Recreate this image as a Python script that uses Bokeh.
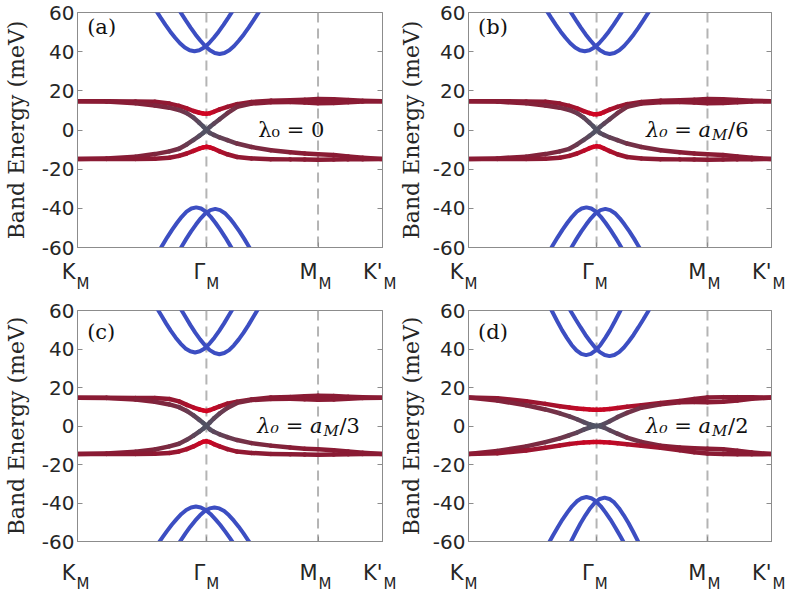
from bokeh.plotting import figure
from bokeh.models import Range1d, FixedTicker, LinearAxis, Span, Label, ColumnDataSource
from bokeh.layouts import column, row
from bokeh.transform import linear_cmap
from bokeh.embed import file_html
from bokeh.resources import INLINE

# ---- path through the moire Brillouin zone ----
TICK_K = [0.0, 1.3333, 2.4880, 3.1547]
TICK_NAMES = ["K", "Γ", "M", "K'"]
TICK_SUB = "M"
DASHED_K = [1.3333, 2.4880]
Y_TICKS = [-60, -40, -20, 0, 20, 40, 60]

# ---- flat bands (meV) sampled on K_FLAT ----
K_FLAT = [0.0, 0.3, 0.6, 0.8, 0.95, 1.05, 1.13, 1.2, 1.26, 1.3, 1.3333, 1.37, 1.41,
          1.47, 1.55, 1.65, 1.8, 2.0, 2.2, 2.35, 2.488, 2.65, 2.8, 2.95, 3.1547]

A_UB = [14.7, 14.7, 14.6, 14.4, 13.5, 12.3, 11.0, 9.7, 8.8, 8.4, 8.3, 8.6, 9.3, 10.5, 11.8, 13.2, 14.3, 15.0, 15.2, 15.5, 15.8, 15.7, 15.3, 14.9, 14.7]
A_UC = [14.7, 14.5, 13.6, 12.5, 11.4, 10.2, 8.6, 6.3, 3.7, 1.8, 0.0, 1.6, 3.2, 5.5, 8.6, 11.8, 13.5, 14.2, 14.3, 14.0, 13.7, 13.8, 14.2, 14.5, 14.7]
A_LC = [-14.8, -14.5, -13.6, -12.3, -10.9, -9.6, -7.4, -5.1, -3.0, -1.5, 0.0, -1.5, -2.5, -3.8, -5.2, -6.9, -8.7, -10.3, -11.4, -12.0, -12.4, -12.8, -13.5, -14.2, -14.8]
A_LB = [-14.8, -14.8, -14.8, -14.7, -14.2, -13.2, -12.0, -10.7, -9.5, -8.9, -8.6, -8.9, -9.6, -10.9, -12.4, -13.8, -14.5, -14.9, -15.0, -15.1, -15.2, -15.1, -15.0, -14.9, -14.8]

B_UB = [14.7, 14.7, 14.6, 14.4, 13.5, 12.3, 11.0, 9.6, 8.6, 8.1, 8.0, 8.3, 9.1, 10.4, 11.8, 13.2, 14.3, 15.0, 15.2, 15.5, 15.8, 15.7, 15.3, 14.9, 14.7]
B_UC = [14.7, 14.5, 13.6, 12.5, 11.4, 10.2, 8.6, 6.3, 3.7, 1.8, 0.0, 1.6, 3.2, 5.5, 8.6, 11.8, 13.5, 14.2, 14.3, 14.0, 13.7, 13.8, 14.2, 14.5, 14.7]
B_LC = [-14.8, -14.5, -13.6, -12.3, -10.9, -9.6, -7.4, -5.1, -3.0, -1.5, 0.0, -1.5, -2.5, -3.8, -5.2, -6.9, -8.7, -10.3, -11.4, -12.0, -12.4, -12.8, -13.5, -14.2, -14.8]
B_LB = [-14.8, -14.8, -14.8, -14.7, -14.2, -13.2, -12.0, -10.6, -9.3, -8.6, -8.3, -8.6, -9.4, -10.8, -12.4, -13.8, -14.5, -14.9, -15.0, -15.1, -15.2, -15.1, -15.0, -14.9, -14.8]

C_UB = [14.7, 14.7, 14.6, 14.5, 14.0, 12.8, 11.0, 9.6, 8.6, 8.1, 7.8, 8.3, 9.0, 10.2, 11.6, 12.6, 13.8, 14.8, 15.1, 15.4, 15.7, 15.6, 15.2, 14.9, 14.7]
C_UC = [14.7, 14.5, 13.7, 12.6, 11.2, 9.8, 7.8, 5.5, 3.2, 1.6, 0.0, 1.9, 3.9, 6.5, 9.4, 12.0, 13.5, 14.0, 14.1, 13.9, 13.6, 13.8, 14.2, 14.5, 14.7]
C_LC = [-14.5, -14.3, -13.4, -12.2, -10.6, -9.2, -7.2, -5.0, -2.9, -1.4, 0.0, -1.8, -3.0, -4.3, -5.8, -7.3, -8.9, -10.2, -11.2, -11.8, -12.1, -12.6, -13.3, -13.9, -14.5]
C_LB = [-14.5, -14.5, -14.5, -14.4, -14.0, -13.2, -12.0, -10.6, -9.1, -8.2, -7.9, -8.4, -9.4, -10.6, -12.0, -13.3, -14.0, -14.5, -14.7, -14.8, -14.9, -14.8, -14.7, -14.6, -14.5]

D_UB = [14.8, 14.4, 12.9, 11.5, 10.3, 9.6, 9.1, 8.8, 8.6, 8.5, 8.5, 8.5, 8.6, 8.8, 9.3, 10.0, 10.8, 11.9, 13.0, 14.0, 14.8, 15.0, 15.0, 14.9, 14.8]
D_UC = [14.8, 13.2, 10.8, 8.6, 6.6, 5.0, 3.5, 2.0, 0.9, 0.3, 0.0, 0.3, 1.0, 2.5, 4.6, 6.8, 9.5, 11.3, 12.3, 12.5, 12.4, 12.6, 13.3, 14.1, 14.8]
D_LC = [-14.6, -13.0, -10.6, -8.4, -6.4, -4.8, -3.4, -1.9, -0.8, -0.3, 0.0, -0.2, -0.8, -2.2, -4.0, -6.0, -8.3, -10.3, -11.2, -11.6, -11.8, -12.1, -12.8, -13.7, -14.6]
D_LB = [-14.6, -14.2, -12.7, -11.3, -10.1, -9.4, -8.9, -8.6, -8.4, -8.3, -8.3, -8.3, -8.4, -8.6, -9.0, -9.5, -10.3, -11.3, -12.6, -13.6, -14.3, -14.6, -14.7, -14.7, -14.6]

# colour weight of the flat bands (0 = mixed/grey, 0.5 = maroon, 1 = polarised red)
W_UB = [0.5, 0.5, 0.5, 0.52, 0.55, 0.6, 0.68, 0.78, 0.9, 0.97, 1.0, 0.97, 0.9, 0.78, 0.65, 0.57, 0.52, 0.5, 0.5, 0.5, 0.5, 0.5, 0.5, 0.5, 0.5]
W_UC = [0.5, 0.5, 0.47, 0.43, 0.38, 0.32, 0.25, 0.17, 0.09, 0.04, 0.0, 0.04, 0.09, 0.17, 0.26, 0.35, 0.44, 0.5, 0.5, 0.5, 0.5, 0.5, 0.5, 0.5, 0.5]
W_LC = [0.5, 0.49, 0.46, 0.42, 0.37, 0.31, 0.24, 0.16, 0.09, 0.04, 0.0, 0.04, 0.08, 0.14, 0.2, 0.27, 0.35, 0.42, 0.47, 0.5, 0.5, 0.5, 0.5, 0.5, 0.5]
W_LB = [0.5, 0.5, 0.5, 0.52, 0.55, 0.6, 0.68, 0.78, 0.9, 0.97, 1.0, 0.97, 0.9, 0.78, 0.65, 0.57, 0.52, 0.5, 0.5, 0.5, 0.5, 0.5, 0.5, 0.5, 0.5]
WD_UB = [0.5, 0.53, 0.58, 0.65, 0.72, 0.78, 0.84, 0.89, 0.93, 0.95, 0.96, 0.95, 0.93, 0.89, 0.84, 0.77, 0.67, 0.57, 0.52, 0.5, 0.5, 0.5, 0.5, 0.5, 0.5]
WD_UC = [0.5, 0.46, 0.4, 0.34, 0.28, 0.22, 0.16, 0.1, 0.05, 0.02, 0.0, 0.02, 0.05, 0.1, 0.16, 0.24, 0.34, 0.44, 0.5, 0.5, 0.5, 0.5, 0.5, 0.5, 0.5]

# ---- remote (blue) bands ----
A_U1_K = [0.76, 0.81, 0.86, 0.91, 0.96, 1.01, 1.06, 1.11, 1.16, 1.21, 1.26, 1.31, 1.36, 1.41, 1.46, 1.51, 1.56, 1.61, 1.66]
A_U1_E = [65.2, 61.2, 57.4, 53.7, 50.2, 47.1, 44.3, 42.1, 40.7, 40.2, 40.7, 42.1, 44.3, 47.1, 50.2, 53.7, 57.4, 61.2, 65.2]
A_U2_K = [1.02, 1.07, 1.12, 1.17, 1.22, 1.27, 1.32, 1.37, 1.42, 1.47, 1.52, 1.57, 1.62, 1.67, 1.72, 1.77, 1.82, 1.87, 1.92]
A_U2_E = [63.8, 59.8, 56.0, 52.3, 48.8, 45.7, 42.9, 40.7, 39.3, 38.8, 39.3, 40.7, 42.9, 45.7, 48.8, 52.3, 56.0, 59.8, 63.8]
A_L1_K = [0.778, 0.828, 0.878, 0.928, 0.978, 1.028, 1.078, 1.128, 1.178, 1.228, 1.278, 1.328, 1.378, 1.428, 1.478, 1.528, 1.578, 1.628, 1.678]
A_L1_E = [-67.5, -63.1, -58.9, -54.8, -51.0, -47.5, -44.3, -41.7, -40.1, -39.5, -40.1, -41.7, -44.3, -47.5, -51.0, -54.8, -58.9, -63.1, -67.5]
A_L2_K = [0.975, 1.025, 1.075, 1.125, 1.175, 1.225, 1.275, 1.325, 1.375, 1.425, 1.475, 1.525, 1.575, 1.625, 1.675, 1.725, 1.775, 1.825, 1.875]
A_L2_E = [-68.3, -63.9, -59.7, -55.6, -51.8, -48.3, -45.1, -42.5, -40.9, -40.3, -40.9, -42.5, -45.1, -48.3, -51.8, -55.6, -59.7, -63.9, -68.3]

C_U1_K = [0.766, 0.816, 0.866, 0.916, 0.966, 1.016, 1.066, 1.116, 1.166, 1.216, 1.266, 1.316, 1.366, 1.416, 1.466, 1.516, 1.566, 1.616, 1.666]
C_U1_E = [66.2, 61.7, 57.5, 53.3, 49.4, 45.9, 42.8, 40.3, 38.8, 38.2, 38.8, 40.3, 42.8, 45.9, 49.4, 53.3, 57.5, 61.7, 66.2]
C_U2_K = [1.018, 1.068, 1.118, 1.168, 1.218, 1.268, 1.318, 1.368, 1.418, 1.468, 1.518, 1.568, 1.618, 1.668, 1.718, 1.768, 1.818, 1.868, 1.918]
C_U2_E = [65.3, 60.8, 56.6, 52.4, 48.5, 45.0, 41.9, 39.4, 37.9, 37.3, 37.9, 39.4, 41.9, 45.0, 48.5, 52.4, 56.6, 60.8, 65.3]
C_L1_K = [0.775, 0.825, 0.875, 0.925, 0.975, 1.025, 1.075, 1.125, 1.175, 1.225, 1.275, 1.325, 1.375, 1.425, 1.475, 1.525, 1.575, 1.625, 1.675]
C_L1_E = [-65.6, -61.8, -58.1, -54.6, -51.3, -48.4, -45.7, -43.6, -42.3, -41.8, -42.3, -43.6, -45.7, -48.4, -51.3, -54.6, -58.1, -61.8, -65.6]
C_L2_K = [0.967, 1.017, 1.067, 1.117, 1.167, 1.217, 1.267, 1.317, 1.367, 1.417, 1.467, 1.517, 1.567, 1.617, 1.667, 1.717, 1.767, 1.817, 1.867]
C_L2_E = [-67.3, -63.3, -59.5, -55.8, -52.3, -49.2, -46.4, -44.2, -42.8, -42.3, -42.8, -44.2, -46.4, -49.2, -52.3, -55.8, -59.5, -63.3, -67.3]

D_U1_K = [0.774, 0.824, 0.874, 0.924, 0.974, 1.024, 1.074, 1.124, 1.174, 1.224, 1.274, 1.324, 1.374, 1.424, 1.474, 1.524, 1.574, 1.624, 1.674]
D_U1_E = [69.3, 64.1, 59.2, 54.4, 49.8, 45.8, 42.1, 39.3, 37.45, 36.8, 37.45, 39.3, 42.1, 45.8, 49.8, 54.4, 59.2, 64.1, 69.3]
D_U2_E = [63.8, 59.4, 55.2, 51.2, 47.3, 43.9, 40.8, 38.4, 36.85, 36.3, 36.85, 38.4, 40.8, 43.9, 47.3, 51.2, 55.2, 59.4, 63.8]
D_L1_E = [-66.2, -61.5, -57.0, -52.7, -48.6, -45.0, -41.7, -39.1, -37.5, -36.9, -37.5, -39.1, -41.7, -45.0, -48.6, -52.7, -57.0, -61.5, -66.2]
D_L2_E = [-70.5, -65.1, -60.1, -55.2, -50.5, -46.4, -42.7, -39.7, -37.9, -37.2, -37.9, -39.7, -42.7, -46.4, -50.5, -55.2, -60.1, -65.1, -70.5]

# ---- styling ----
TEXT = "#262626"
AXIS = "#8c8c8c"
BLUE = "#3c4ec2"
DASH = "#b4b4b4"
GRAY, MAROON, RED = (80, 84, 102), (138, 27, 52), (210, 4, 34)
K_END = 3.1547


def mix(a, b, t):
    return tuple(int(round(a[i] + (b[i] - a[i]) * t)) for i in range(3))


PALETTE = []
for i in range(101):
    t = i / 100
    c = mix(GRAY, MAROON, t / 0.5) if t <= 0.5 else mix(MAROON, RED, (t - 0.5) / 0.5)
    PALETTE.append("#%02x%02x%02x" % c)


def make_panel(cfg):
    w, h = cfg["size"]
    bl, br, bt, bb = cfg["border"]
    p = figure(width=w, height=h, x_range=Range1d(0, K_END), y_range=Range1d(-60, 60),
               output_backend="svg", toolbar_location=None, tools="",
               min_border_left=bl, min_border_right=br, min_border_top=bt, min_border_bottom=bb)
    p.xgrid.visible = False
    p.ygrid.visible = False
    p.outline_line_color = AXIS
    p.outline_line_width = 1

    xa = p.xaxis[0]
    xa.ticker = FixedTicker(ticks=TICK_K)
    xa.major_label_overrides = {k: "" for k in TICK_K}
    xa.major_label_text_color = None
    xa.major_label_standoff = 0
    xa.major_tick_in = 5
    xa.major_tick_out = 0
    xa.minor_tick_line_color = None
    xa.axis_line_color = AXIS
    xa.major_tick_line_color = AXIS

    ya = p.yaxis[0]
    ya.ticker = FixedTicker(ticks=Y_TICKS)
    ya.major_label_overrides = {v: str(v) for v in Y_TICKS}
    ya.major_label_text_font = "DejaVu Sans"
    ya.major_label_text_font_size = "20px"
    ya.major_label_text_color = TEXT
    ya.major_label_standoff = 3
    ya.major_tick_in = 5
    ya.major_tick_out = 0
    ya.minor_tick_line_color = None
    ya.axis_line_color = AXIS
    ya.major_tick_line_color = AXIS
    ya.axis_label = "Band Energy (meV)"
    ya.axis_label_text_font = "DejaVu Serif"
    ya.axis_label_text_font_size = "22px"
    ya.axis_label_text_font_style = "normal"
    ya.axis_label_text_color = TEXT
    ya.axis_label_standoff = cfg["label_gap"]

    ra = LinearAxis(ticker=FixedTicker(ticks=Y_TICKS), major_tick_in=5, major_tick_out=0,
                    minor_tick_line_color=None, axis_line_color=AXIS, major_tick_line_color=AXIS,
                    major_label_text_color=None, major_label_standoff=0,
                    major_label_overrides={v: "" for v in Y_TICKS})
    p.add_layout(ra, "right")

    for k in DASHED_K:
        p.add_layout(Span(location=k, dimension="height", line_color=DASH, line_width=2,
                          line_dash="10 6", level="underlay"))

    for kk, ee in cfg["blue"]:
        p.line(kk, ee, line_color=BLUE, line_width=4)

    for band, wt in zip(cfg["flat"], cfg["weights"]):
        src = ColumnDataSource(dict(
            x0=K_FLAT[:-1], x1=K_FLAT[1:], y0=band[:-1], y1=band[1:],
            w=[(wt[i] + wt[i + 1]) / 2 for i in range(len(wt) - 1)]))
        p.segment("x0", "y0", "x1", "y1", source=src, line_width=4.5, line_cap="round",
                  line_color=linear_cmap("w", PALETTE, 0, 1))

    # panel tag
    p.add_layout(Label(x=0.10, y=cfg["tag_y"], text=cfg["tag"], text_font="DejaVu Serif",
                       text_font_size="21px", text_baseline="middle", text_align="left",
                       text_color="#111111"))

    # lambda annotation
    if cfg["den"] is None:
        p.add_layout(Label(x=1.87, y=0, text="λ₀ = 0", text_font="DejaVu Serif",
                           text_font_size="21px", text_baseline="middle", text_align="left",
                           text_color="#111111"))
    else:
        P = cfg["anchor"]
        p.add_layout(Label(x=P, y=0, text="λ₀ = a", text_font="DejaVu Serif",
                           text_font_size="21px", text_font_style="italic",
                           text_baseline="middle", text_align="right", text_color="#111111"))
        p.add_layout(Label(x=P, x_offset=1, y=-2.6, text="M", text_font="DejaVu Serif",
                           text_font_size="15px", text_font_style="italic",
                           text_baseline="middle", text_align="left", text_color="#111111"))
        p.add_layout(Label(x=P, x_offset=17, y=0, text="/" + cfg["den"], text_font="DejaVu Serif",
                           text_font_size="21px", text_baseline="middle", text_align="left",
                           text_color="#111111"))
    return p


def make_tick_strip(cfg):
    # strip under a panel that carries the x tick names with their subscripts;
    # its x scale is the panel's x scale (same pixels per unit, same origin)
    w, h = cfg["size"]
    x0, x1 = cfg["xr"]
    p = figure(width=w, height=h, x_range=Range1d(x0, x1), y_range=Range1d(h, 0),
               output_backend="svg", toolbar_location=None, tools="",
               x_axis_location=None, y_axis_location=None, min_border=0)
    p.outline_line_color = None
    p.grid.visible = False
    y_main, y_sub = cfg["ys"]
    for k, nm in zip(TICK_K, TICK_NAMES):
        p.add_layout(Label(x=k, y=y_main, text=nm, text_align="right", text_baseline="top",
                           text_font="DejaVu Sans", text_font_size="21px", text_color=TEXT))
        p.add_layout(Label(x=k, x_offset=1, y=y_sub, text=TICK_SUB, text_align="left",
                           text_baseline="top", text_font="DejaVu Sans", text_font_size="15px",
                           text_color=TEXT))
    return p


FLAT_W = (W_UB, W_UC, W_LC, W_LB)
panels = [
    dict(tag="(a)", den=None, anchor=None, flat=(A_UB, A_UC, A_LC, A_LB), weights=FLAT_W,
         blue=[(A_U1_K, A_U1_E), (A_U2_K, A_U2_E), (A_L1_K, A_L1_E), (A_L2_K, A_L2_E)],
         size=(395, 259), border=(75, 13, 12, 12), tag_y=52.5, label_gap=10),
    dict(tag="(b)", den="6", anchor=2.526, flat=(B_UB, B_UC, B_LC, B_LB), weights=FLAT_W,
         blue=[(A_U1_K, A_U1_E), (A_U2_K, A_U2_E), (A_L1_K, A_L1_E), (A_L2_K, A_L2_E)],
         size=(392, 259), border=(68, 16, 12, 12), tag_y=52.5, label_gap=6),
    dict(tag="(c)", den="3", anchor=2.534, flat=(C_UB, C_UC, C_LC, C_LB), weights=FLAT_W,
         blue=[(C_U1_K, C_U1_E), (C_U2_K, C_U2_E), (C_L1_K, C_L1_E), (C_L2_K, C_L2_E)],
         size=(395, 268), border=(75, 13, 17, 12), tag_y=49, label_gap=10),
    dict(tag="(d)", den="2", anchor=2.526, flat=(D_UB, D_UC, D_LC, D_LB),
         weights=(WD_UB, WD_UC, WD_UC, WD_UB),
         blue=[(D_U1_K, D_U1_E), (C_U2_K, D_U2_E), (A_L1_K, D_L1_E), (C_L2_K, D_L2_E)],
         size=(392, 268), border=(68, 16, 18, 19), tag_y=49, label_gap=6),
]

PX_LEFT = 307 / K_END    # pixels per unit, left column
PX_RIGHT = 308 / K_END   # pixels per unit, right column
strips = [
    dict(size=(400, 33), xr=(-75 / PX_LEFT, 325 / PX_LEFT), ys=(0.5, 15.0)),
    dict(size=(389, 33), xr=(-63 / PX_RIGHT, 326 / PX_RIGHT), ys=(0.5, 15.0)),
    dict(size=(400, 33), xr=(-75 / PX_LEFT, 325 / PX_LEFT), ys=(0, 14.5)),
    dict(size=(389, 33), xr=(-63 / PX_RIGHT, 326 / PX_RIGHT), ys=(0, 14.5)),
]

figs = [make_panel(c) for c in panels]
labs = [make_tick_strip(c) for c in strips]
layout = column(row(figs[0], figs[1]), row(labs[0], labs[1]),
                row(figs[2], figs[3]), row(labs[2], labs[3]))

html = file_html(layout, INLINE, title="Band structures")
with open("out.html", "w", encoding="utf-8") as f:
    f.write(html)
